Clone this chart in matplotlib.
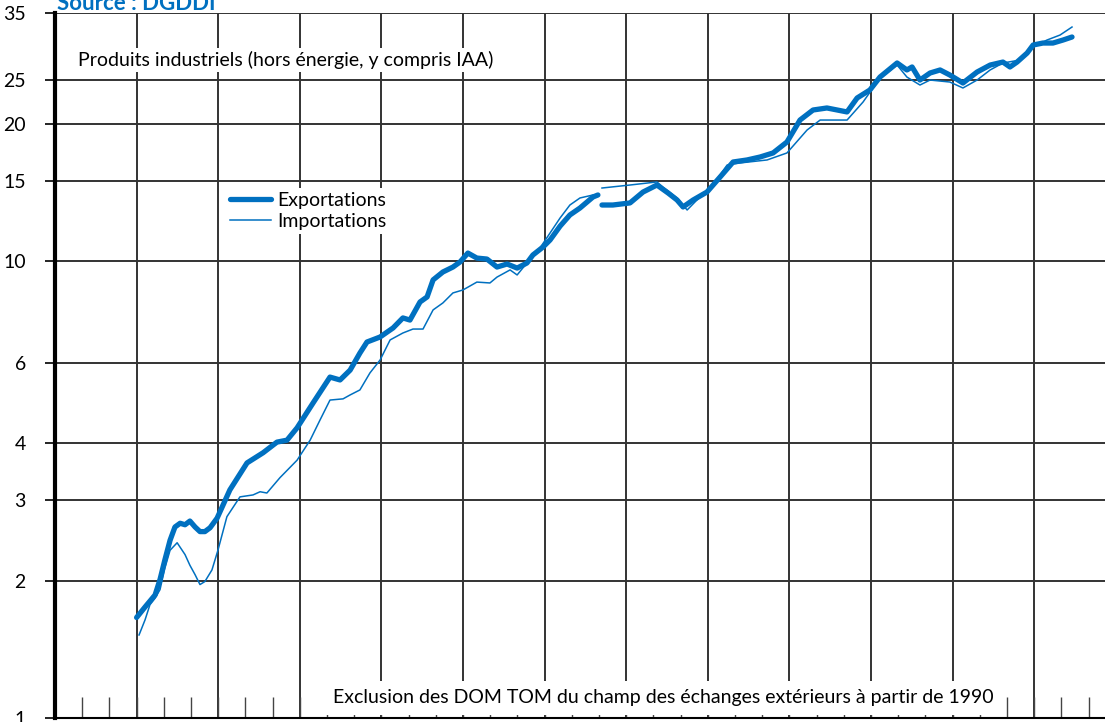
import numpy as np
import matplotlib
matplotlib.use("Agg")
import matplotlib.pyplot as plt
from matplotlib.ticker import FixedLocator, MultipleLocator, NullFormatter

plt.rcParams['font.family'] = ['Lato', 'DejaVu Sans']

BLUE = "#0070C0"

# --- data (milliards, échelle log) ---
# NaN marks the 1990 break (DOM TOM excluded from 1990)
exp_year = [1973.00, 1973.31, 1973.68, 1973.86, 1974.04, 1974.23, 1974.41, 1974.60, 1974.78, 1974.96,
            1975.15, 1975.33, 1975.51, 1975.70, 1975.96, 1976.43, 1977.06, 1977.65, 1978.16, 1978.53,
            1978.90, 1979.49, 1980.11, 1980.48, 1980.85, 1981.21, 1981.47, 1981.95, 1982.43, 1982.79,
            1983.05, 1983.42, 1983.68, 1983.90, 1984.26, 1984.63, 1984.89, 1985.18, 1985.51, 1985.88,
            1986.25, 1986.62, 1986.99, 1987.35, 1987.57, 1987.94, 1988.20, 1988.57, 1988.93, 1989.30,
            1989.78, 1989.96, 1990.00,
            1990.11, 1990.51, 1991.14, 1991.62, 1992.13, 1992.54, 1992.87, 1993.09, 1993.46, 1993.97,
            1994.45, 1994.93, 1995.44, 1995.92, 1996.40, 1996.91, 1997.39, 1997.87, 1998.38, 1999.12,
            1999.49, 1999.96, 2000.33, 2000.96, 2001.32, 2001.51, 2001.80, 2002.17, 2002.54, 2002.90,
            2003.38, 2003.90, 2004.38, 2004.85, 2005.11, 2005.37, 2005.74, 2005.96, 2006.32, 2006.69,
            2007.06, 2007.39]
exportations = [1.66, 1.75, 1.86, 2.01, 2.22, 2.45, 2.62, 2.67, 2.65, 2.70,
                2.62, 2.56, 2.56, 2.61, 2.74, 3.16, 3.62, 3.81, 4.02, 4.06,
                4.32, 4.90, 5.58, 5.50, 5.78, 6.30, 6.66, 6.83, 7.15, 7.52,
                7.44, 8.15, 8.36, 9.11, 9.48, 9.72, 9.97, 10.43, 10.17, 10.12,
                9.72, 9.87, 9.67, 9.92, 10.33, 10.75, 11.14, 11.95, 12.64, 13.09,
                13.84, 13.98, np.nan,
                13.29, 13.29, 13.43, 14.19, 14.70, 14.12, 13.63, 13.16, 13.63, 14.19,
                15.30, 16.51, 16.68, 16.93, 17.28, 18.26, 20.40, 21.46, 21.68, 21.25,
                22.80, 23.74, 25.34, 27.20, 26.26, 26.66, 24.96, 25.86, 26.26, 25.60,
                24.59, 25.99, 26.92, 27.33, 26.66, 27.33, 28.60, 29.78, 30.08, 30.08,
                30.54, 31.01]

imp_year = [1973.09, 1973.31, 1973.49, 1973.68, 1973.86, 1974.04, 1974.23, 1974.49, 1974.78, 1974.96,
            1975.15, 1975.33, 1975.51, 1975.77, 1975.99, 1976.32, 1976.80, 1977.28, 1977.54, 1977.79,
            1978.27, 1978.90, 1979.38, 1979.74, 1980.11, 1980.59, 1980.85, 1981.21, 1981.58, 1981.95,
            1982.32, 1982.79, 1983.16, 1983.53, 1983.90, 1984.26, 1984.63, 1985.00, 1985.51, 1985.99,
            1986.25, 1986.73, 1986.99, 1987.35, 1987.83, 1988.20, 1988.57, 1988.93, 1989.30, 1989.78,
            1990.00,
            1990.11, 1991.14, 1992.13, 1992.35, 1992.87, 1993.24, 1993.71, 1994.19, 1994.71, 1995.18,
            1996.18, 1996.91, 1997.65, 1998.13, 1999.12, 1999.71, 2000.33, 2000.96, 2001.32, 2001.80,
            2002.17, 2002.90, 2003.38, 2003.90, 2004.38, 2004.85, 2005.48, 2005.96, 2006.47, 2006.95,
            2007.39]
importations = [1.52, 1.64, 1.77, 1.83, 1.91, 2.13, 2.33, 2.42, 2.28, 2.16,
                2.06, 1.96, 1.99, 2.11, 2.33, 2.76, 3.05, 3.08, 3.13, 3.11,
                3.36, 3.67, 4.06, 4.49, 4.97, 5.00, 5.10, 5.23, 5.70, 6.08,
                6.73, 6.97, 7.11, 7.11, 7.83, 8.11, 8.53, 8.66, 9.01, 8.97,
                9.24, 9.58, 9.34, 9.92, 10.70, 11.54, 12.45, 13.29, 13.77, 13.98,
                np.nan,
                14.48, 14.70, 14.93, 14.55, 13.77, 12.96, 13.84, 14.70, 16.26, 16.43,
                16.68, 17.28, 19.40, 20.40, 20.40, 22.35, 25.22, 26.92, 25.34, 24.34,
                24.96, 24.71, 23.98, 24.96, 26.26, 27.20, 27.61, 29.49, 30.54, 31.32,
                32.61]

y_ticks = [1, 2, 3, 4, 6, 10, 15, 20, 25, 35]
x_major = np.arange(1970, 2009, 3)

fig = plt.figure(figsize=(11.05, 7.22), dpi=100)
ax = fig.add_axes([55 / 1105, 4 / 722, 1050 / 1105, 705 / 722])

ax.plot(exp_year, exportations, color=BLUE, lw=3.8, solid_capstyle="round",
        solid_joinstyle="round", label="Exportations", zorder=3)
ax.plot(imp_year, importations, color=BLUE, lw=1.1, label="Importations", zorder=3)

ax.set_yscale("log")
ax.set_ylim(1, 35)
ax.set_xlim(1970, 1970 + 1050 / 27.2)

ax.yaxis.set_major_locator(FixedLocator(y_ticks))
ax.yaxis.set_minor_locator(FixedLocator([]))
ax.set_yticklabels([str(t) for t in y_ticks], fontsize=14)
ax.yaxis.set_minor_formatter(NullFormatter())
ax.tick_params(axis="y", direction="out", length=7, width=1.2, pad=14, colors="black")

ax.xaxis.set_major_locator(FixedLocator(x_major))
ax.xaxis.set_minor_locator(MultipleLocator(1))
ax.xaxis.set_major_formatter(NullFormatter())
ax.tick_params(axis="x", which="both", direction="in", length=15, width=1.0, color="#444444")

ax.grid(True, which="major", axis="both", color="#333333", lw=1.4)
ax.set_axisbelow(True)

ax.spines["right"].set_visible(False)
ax.spines["top"].set_visible(False)
ax.spines["left"].set_linewidth(3)
ax.spines["bottom"].set_linewidth(1.5)

ax.text((78 - 55) / 1050, (722 - 60 - 4) / 705, "Produits industriels (hors énergie, y compris IAA)",
        transform=ax.transAxes, fontsize=14, va="center", ha="left",
        bbox=dict(facecolor="white", edgecolor="none", pad=2))

ax.text((333 - 55) / 1050, 20 / 705,
        "Exclusion des DOM TOM du champ des échanges extérieurs à partir de 1990",
        transform=ax.transAxes, fontsize=14, va="center", ha="left",
        bbox=dict(facecolor="white", edgecolor="none", pad=6), zorder=4)

leg = ax.legend(loc="upper left", bbox_to_anchor=((226 - 55) / 1050, (722 - 192) / 705),
                frameon=True, fontsize=14, handlelength=2.1, handletextpad=0.35,
                borderaxespad=0, labelspacing=0.2, borderpad=0.2)
leg.get_frame().set_facecolor("white")
leg.get_frame().set_edgecolor("none")
leg.get_frame().set_alpha(1)

fig.text(57 / 1105, 712 / 722, "Source : DGDDI", color=BLUE, fontsize=16,
         fontweight="bold", va="baseline", ha="left")

fig.savefig("out.png", dpi=100)
